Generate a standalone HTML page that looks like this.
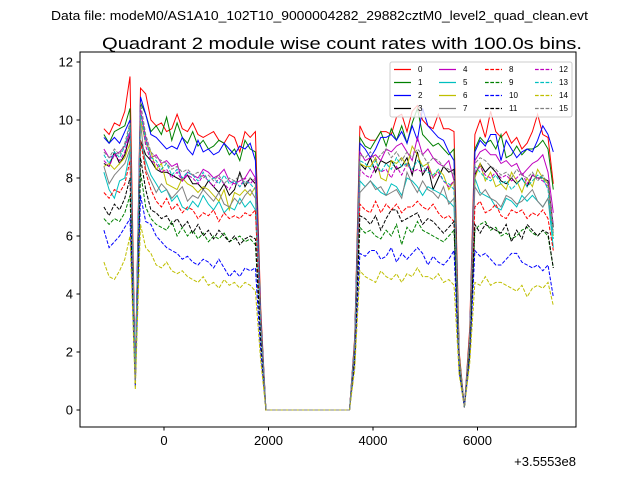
<!DOCTYPE html>
<html><head><meta charset="utf-8"><style>
html,body{margin:0;padding:0;background:#fff;}
svg{display:block;font-family:"Liberation Sans","DejaVu Sans",sans-serif;}
</style></head><body>
<svg id="chart" width="640" height="480" viewBox="0 0 640 480">
<rect width="640" height="480" fill="#fff"/>
<text x="51" y="20" font-size="13" textLength="537" lengthAdjust="spacingAndGlyphs">Data file: modeM0/AS1A10_102T10_9000004282_29882cztM0_level2_quad_clean.evt</text>
<text x="102" y="49" font-size="17" textLength="480" lengthAdjust="spacingAndGlyphs">Quadrant 2 module wise count rates with 100.0s bins.</text>
<g id="plot"></g>
<rect x="80" y="52" width="496" height="375" fill="none" stroke="#000" stroke-width="1"/>
<g id="axes"></g>
<g id="legend"></g>
<text x="576" y="466" font-size="13" text-anchor="end">+3.5553e8</text>
</svg>
<script>
const xTicks = [0, 2000, 4000, 6000];
const yTicks = [0, 2, 4, 6, 8, 10, 12];
const t0 = -1150, dt = 100;
const names = ["0","1","2","3","4","5","6","7","8","9","10","11","12","13","14","15"];
const colors = ["red","green","blue","black","#bf00bf","#00bfbf","#bfbf00","gray","red","green","blue","black","#bf00bf","#00bfbf","#bfbf00","gray"];
const Z = [0,0,0,0,0,0,0,0,0,0,0,0,0,0,0,0,0];
const s0 = [9.7,9.5,9.9,9.8,10.3,11.5,1.2,11.1,10.9,10.0,9.8,9.9,9.6,9.7,10.2,9.7,9.6,9.9,9.5,9.4,9.5,9.6,9.3,9.2,9.5,9.4,8.9,9.6,9.4,9.6,3.5].concat(Z,[2.5,9.8,9.4,9.3,9.3,9.6,9.6,9.5,10.1,10.2,9.6,10.3,10.5,10.0,9.8,9.7,10.2,9.7,9.7,9.6,2.0,0.1,2.8,9.5,10.0,9.4,10.3,9.6,9.4,9.6,9.2,9.4,9.0,9.2,9.6,10.2,9.5,9.4,7.8]);
const s1 = [9.5,9.2,9.6,9.7,9.8,10.4,1.1,10.6,10.2,9.6,9.8,9.5,10.1,9.3,9.9,9.4,9.2,9.6,9.1,9.3,9.0,9.1,9.3,9.2,8.8,9.0,8.6,9.3,9.0,8.9,3.3].concat(Z,[2.4,9.4,9.1,9.0,9.3,9.6,9.1,9.7,9.3,9.8,9.2,9.9,10.4,9.5,9.3,9.1,9.2,9.0,8.8,9.0,1.9,0.1,2.6,9.0,9.4,9.2,9.3,9.0,9.5,8.7,8.8,9.1,8.8,9.0,9.0,9.1,9.3,9.0,7.6]);
const s2 = [9.4,9.2,9.4,9.2,9.6,10.0,1.1,10.8,10.2,9.5,9.4,9.2,9.0,9.1,9.0,9.4,9.0,8.8,9.3,8.9,9.0,8.8,8.9,9.2,9.0,8.8,9.1,9.0,9.2,8.6,3.2].concat(Z,[2.3,9.2,9.0,8.7,9.0,9.4,9.4,9.5,9.3,9.6,9.2,9.8,9.3,10.4,9.8,9.6,9.4,9.3,8.9,8.6,1.8,0.1,2.5,8.9,9.3,9.1,9.5,9.5,8.6,9.3,9.0,8.7,8.9,9.0,8.9,9.3,9.8,9.5,8.9]);
const s3 = [8.5,8.4,8.9,8.5,8.8,9.5,1.0,9.3,8.8,8.6,8.3,8.2,8.2,8.1,8.0,7.9,8.1,7.8,7.8,7.6,7.9,7.7,7.5,7.8,7.4,7.6,8.2,7.7,8.0,7.8,3.0].concat(Z,[2.2,8.5,8.3,8.7,8.2,8.6,8.5,8.6,8.3,8.4,8.7,8.1,8.9,8.1,8.4,7.6,8.0,8.4,8.2,8.3,1.7,0.1,2.4,8.1,8.5,8.2,8.4,8.2,7.9,7.8,8.0,7.8,8.0,7.7,8.1,8.0,8.0,7.9,6.3]);
const s4 = [9.0,8.7,8.8,8.9,9.1,9.6,1.1,10.3,9.4,8.7,8.8,8.5,8.6,8.4,8.5,7.9,8.2,8.1,8.0,8.3,8.2,8.0,8.1,8.3,7.9,7.8,7.9,8.0,8.3,8.0,3.1].concat(Z,[2.3,8.9,8.6,8.7,8.8,8.6,9.0,8.9,9.1,9.2,8.9,8.6,9.4,8.8,9.0,8.7,8.5,8.4,8.6,7.9,1.8,0.1,2.5,8.6,8.9,9.0,8.8,8.8,8.5,8.6,8.4,8.5,8.1,8.3,8.5,8.6,8.8,8.2,6.8]);
const s5 = [8.2,7.6,7.3,7.9,8.0,8.9,1.0,9.2,8.6,8.1,7.8,7.5,7.6,7.2,7.4,7.0,6.9,7.2,7.0,7.4,7.1,6.9,7.2,6.8,7.0,6.9,7.3,7.0,7.2,6.9,2.9].concat(Z,[2.1,7.9,7.7,7.9,7.7,7.5,7.4,7.8,7.7,7.4,8.0,7.9,7.7,7.4,7.7,7.6,7.5,7.4,7.2,7.0,1.7,0.1,2.4,8.0,7.5,7.4,7.3,7.0,6.9,7.3,7.2,7.0,7.4,7.2,7.4,7.2,7.0,7.3,5.6]);
const s6 = [8.4,8.5,8.3,8.5,8.7,9.2,0.9,10.0,9.2,8.9,8.3,8.5,7.8,7.7,7.6,8.0,7.8,7.7,7.5,7.7,7.6,7.4,7.2,7.6,6.9,7.5,7.4,7.6,7.4,7.7,3.0].concat(Z,[2.2,8.5,8.4,8.4,8.7,8.0,7.9,8.6,8.5,8.7,8.4,9.1,8.8,8.4,8.5,8.0,8.3,8.1,7.6,7.9,1.8,0.1,2.4,8.0,8.5,7.9,8.2,7.7,7.8,7.6,8.2,7.9,7.5,8.0,7.7,8.3,8.0,7.8,6.0]);
const s7 = [8.4,7.8,8.1,8.3,8.5,9.0,1.0,9.9,8.3,7.9,7.5,7.8,7.6,7.3,7.5,7.7,7.2,7.4,7.3,7.6,7.4,7.2,7.5,7.1,7.0,7.3,7.1,7.4,7.6,7.3,2.9].concat(Z,[2.1,7.5,7.7,7.9,7.6,7.7,7.4,7.5,7.6,7.3,8.2,7.8,7.5,7.9,7.6,7.5,7.3,7.7,7.1,7.3,1.7,0.1,2.3,7.7,7.4,7.6,7.3,7.2,7.0,7.4,7.3,7.1,7.2,7.4,7.6,7.2,7.0,7.3,6.1]);
const s8 = [7.5,7.3,7.6,7.5,7.8,8.6,0.9,9.3,8.2,7.6,7.2,7.0,7.3,6.9,7.1,6.8,7.0,6.9,6.6,6.8,6.7,6.9,6.5,6.8,6.6,6.7,6.6,6.8,6.7,6.9,2.7].concat(Z,[2.0,7.1,6.9,6.8,7.2,6.8,7.1,6.9,7.1,6.8,7.0,7.0,7.2,7.0,6.9,7.1,6.8,6.6,6.7,6.5,1.6,0.1,2.2,7.0,7.2,6.8,6.9,7.1,6.7,6.6,6.9,6.8,6.9,6.6,6.8,6.7,6.9,6.6,5.5]);
const s9 = [6.6,6.4,6.6,6.5,6.8,7.4,0.9,8.2,7.0,6.6,6.4,6.3,6.2,6.5,6.0,6.3,6.0,6.2,5.9,6.1,5.8,6.0,5.9,6.1,5.8,5.9,6.0,5.8,5.9,5.7,2.4].concat(Z,[1.8,6.3,6.1,6.2,6.0,5.9,6.2,6.0,6.4,5.7,6.3,6.1,6.5,6.2,6.1,6.0,5.9,5.8,6.0,6.2,1.5,0.1,2.0,6.2,6.4,6.5,6.2,6.3,6.0,6.1,5.9,6.0,6.2,6.3,6.1,6.0,6.2,6.0,4.9]);
const s10 = [6.2,5.6,5.8,6.0,6.3,6.6,0.8,7.4,6.5,6.4,6.0,5.8,5.6,5.5,5.4,5.2,5.3,5.1,5.0,5.2,5.1,4.9,5.2,4.9,4.6,4.8,4.6,4.9,4.8,4.9,2.0].concat(Z,[1.6,5.4,5.3,5.5,5.5,5.2,5.3,5.6,5.1,5.4,5.2,5.4,5.6,5.4,5.0,5.3,5.1,5.0,5.2,5.5,1.3,0.1,1.8,5.5,5.3,5.4,5.2,5.0,5.0,5.2,5.4,5.4,5.1,5.0,4.9,5.0,4.8,5.0,3.9]);
const s11 = [7.0,6.7,7.1,6.9,7.3,8.0,0.9,8.7,7.6,6.9,6.8,6.6,6.7,6.4,6.6,6.3,6.5,6.1,6.4,6.0,6.2,5.9,6.2,6.0,5.8,6.0,5.7,5.9,6.0,5.9,2.5].concat(Z,[1.8,6.7,6.6,6.4,6.7,6.2,6.6,6.9,6.9,6.5,6.6,6.7,6.8,6.4,6.6,6.5,6.3,6.1,6.3,6.5,1.5,0.1,2.0,6.4,6.1,6.4,6.3,6.2,6.1,6.4,5.8,6.2,5.9,6.4,6.2,6.0,6.2,6.1,4.9]);
const s12 = [8.6,8.4,8.8,8.6,8.9,9.6,1.0,10.4,9.1,8.6,8.5,8.2,8.3,8.0,8.2,7.9,8.1,8.0,7.8,8.1,7.9,7.7,8.0,7.8,7.6,7.9,7.7,8.0,7.8,8.0,3.0].concat(Z,[2.2,8.3,8.1,8.0,8.4,8.2,8.3,8.0,8.4,8.1,8.5,8.2,8.3,8.2,8.4,8.0,8.2,7.9,7.7,7.9,1.7,0.1,2.4,8.2,8.4,8.1,8.0,8.2,8.0,8.1,7.9,8.0,8.2,7.8,8.1,8.0,7.9,7.7,6.4]);
const s13 = [8.8,8.5,8.9,8.7,9.1,9.8,1.0,10.2,9.3,8.7,8.6,8.3,8.5,8.1,8.3,8.0,8.2,8.1,7.9,8.2,7.9,8.0,7.8,8.1,7.8,7.9,7.7,7.9,7.8,7.6,3.0].concat(Z,[2.2,8.6,8.5,8.3,8.6,8.2,8.5,8.3,8.7,8.4,8.5,8.3,8.6,8.4,8.2,8.1,8.3,7.9,7.8,7.6,1.7,0.1,2.4,8.4,8.2,8.0,7.9,8.1,7.8,7.9,7.6,7.8,8.0,7.7,7.9,8.1,8.0,7.6,5.9]);
const s14 = [5.1,4.6,4.5,4.8,5.2,6.0,0.7,6.4,5.6,5.4,5.0,4.9,5.1,4.8,4.7,4.8,4.6,4.5,4.4,4.6,4.3,4.4,4.2,4.5,4.3,4.4,4.2,4.4,4.3,4.1,1.7].concat(Z,[1.4,4.8,4.6,4.5,4.4,4.8,4.6,4.5,4.7,4.4,4.7,4.6,4.9,4.6,4.6,4.5,4.7,4.4,4.5,4.3,1.2,0.1,1.6,4.4,4.3,4.6,4.3,4.4,4.4,4.3,4.2,4.1,4.3,3.9,4.2,4.3,4.2,4.4,3.6]);
const s15 = [8.9,8.7,9.0,8.8,9.2,9.9,1.0,10.6,9.5,8.9,8.7,8.6,8.5,8.3,8.4,8.2,8.3,8.1,8.2,8.0,8.1,7.9,8.1,7.8,8.0,7.9,8.1,7.8,8.0,7.9,3.1].concat(Z,[2.3,8.8,8.7,8.9,8.6,8.8,9.0,8.7,8.9,8.6,8.9,8.7,9.0,8.8,8.5,8.7,8.6,8.4,8.3,8.1,1.8,0.1,2.5,8.5,8.7,8.6,8.4,8.3,8.1,8.2,8.0,8.3,8.1,8.0,8.2,7.9,8.1,7.8,6.2]);
const series = [s0,s1,s2,s3,s4,s5,s6,s7,s8,s9,s10,s11,s12,s13,s14,s15];

const NS = "http://www.w3.org/2000/svg";
const X = v => 164 + v * (104.5 / 2000);
const Y = v => 410 - v * 29;
function mk(tag, attrs, parent){const e=document.createElementNS(NS,tag);for(const k in attrs)e.setAttribute(k,attrs[k]);parent.appendChild(e);return e;}
const plot=document.getElementById('plot'), axes=document.getElementById('axes'), legend=document.getElementById('legend');

series.forEach((s,k)=>{
  const pts=s.map((v,i)=>X(t0+i*dt).toFixed(1)+","+Y(v).toFixed(1)).join(" ");
  const p=mk('polyline',{points:pts,fill:'none',stroke:colors[k],'stroke-width':1},plot);
  if(k>=8)p.setAttribute('stroke-dasharray','3.7,1.6');
  
  
});
xTicks.forEach(v=>{
  const l=mk('line',{x1:X(v),x2:X(v),y1:427,y2:430.5,stroke:'#000'},axes);
  
  
  const t=mk('text',{x:X(v),y:445,'font-size':13,'text-anchor':'middle'},axes);
  t.textContent=v;
  
  
});
yTicks.forEach(v=>{
  const l=mk('line',{x1:76.5,x2:80,y1:Y(v),y2:Y(v),stroke:'#000'},axes);
  
  
  const t=mk('text',{x:73,y:Y(v)+4.5,'font-size':13,'text-anchor':'end'},axes);
  t.textContent=v;
  
  
});
const lb=mk('rect',{x:390,y:62,width:182,height:55,rx:2,fill:'#fff','fill-opacity':0.8,stroke:'#ccc'},legend);


const colX=[394,439,485,535], rowY=[69.5,82.5,95.5,108.5];
names.forEach((n,k)=>{
  const c=Math.floor(k/4), r=k%4;
  const g=mk('g',{},legend);
  
  
  const l=mk('line',{x1:colX[c],x2:colX[c]+17,y1:rowY[r],y2:rowY[r],stroke:colors[k],'stroke-width':1.3},g);
  if(k>=8)l.setAttribute('stroke-dasharray','3.7,1.6');
  const t=mk('text',{x:colX[c]+24,y:rowY[r]+2.7,'font-size':8},g);
  t.textContent=n;
});
</script>
</body></html>
